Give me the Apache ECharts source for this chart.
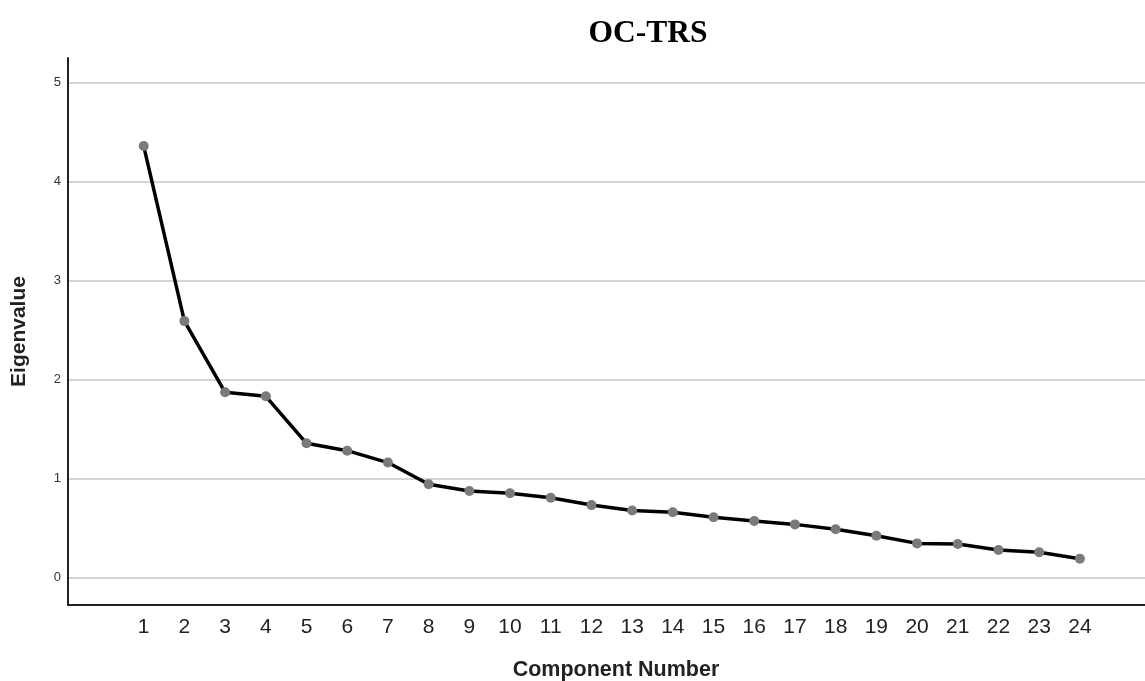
<!DOCTYPE html>
<html>
<head>
<meta charset="utf-8">
<script src="https://cdn.jsdelivr.net/npm/echarts@6/dist/echarts.min.js"></script>
<style>html,body{margin:0;padding:0;background:#fff}#c{width:1145px;height:681px}</style>
</head>
<body>
<div id="c"></div>
<script>
const components = [1,2,3,4,5,6,7,8,9,10,11,12,13,14,15,16,17,18,19,20,21,22,23,24];
const eigenvalues = [4.36,2.59,1.87,1.83,1.355,1.28,1.16,0.94,0.873,0.85,0.805,0.73,0.675,0.657,0.607,0.57,0.535,0.485,0.42,0.343,0.337,0.276,0.253,0.188];
const yTicks = [0,1,2,3,4,5];
const titleText = 'OC-TRS';
const xName = 'Component Number';
const yName = 'Eigenvalue';

const chart = echarts.init(document.getElementById('c'), null, {renderer:'canvas'});
chart.setOption({
  animation:false,
  backgroundColor:'#fff',
  title:[
    {text:titleText, left:643, top:13, textAlign:'center',
     textStyle:{fontFamily:'Liberation Serif', fontWeight:'bold', fontSize:31.5, color:'#000'}},
    {text:xName, left:611, top:654, textAlign:'center',
     textStyle:{fontFamily:'Liberation Sans', fontWeight:'bold', fontSize:21.5, color:'#222'}}
  ],
  grid:{left:68, right:0, top:58, bottom:76, containLabel:false, outerBoundsMode:'none'},
  xAxis:{
    type:'value', min:-0.86, max:25.6,
    axisLine:{show:true, onZero:false, lineStyle:{color:'#222', width:2}},
    axisTick:{show:false, customValues:components},
    axisLabel:{customValues:components, fontFamily:'Liberation Sans', fontSize:21, color:'#222', margin:12},
    splitLine:{show:false}
  },
  yAxis:{
    type:'value', min:-0.28, max:5.25,
    name:yName, nameLocation:'middle', nameGap:38,
    nameTextStyle:{fontFamily:'Liberation Sans', fontWeight:'bold', fontSize:21, color:'#222'},
    axisLine:{show:true, onZero:false, lineStyle:{color:'#222', width:2}},
    axisTick:{show:false, customValues:yTicks},
    axisLabel:{customValues:yTicks, fontFamily:'Liberation Sans', fontSize:13, color:'#333', margin:7},
    splitLine:{show:true, lineStyle:{color:'#c4c4c4', width:1.5}}
  },
  series:[{
    type:'line',
    data:components.map((c,i)=>[c, eigenvalues[i]]),
    symbol:'circle', symbolSize:10,
    lineStyle:{color:'#000', width:3.5},
    itemStyle:{color:'#7a7a7a'},
    z:3
  }]
});
</script>
</body>
</html>
